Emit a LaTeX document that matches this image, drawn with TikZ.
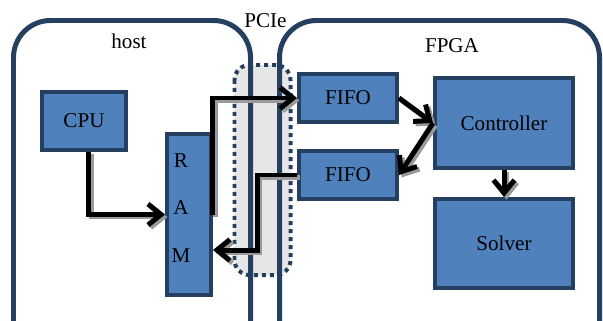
\documentclass[tikz,border=0pt]{standalone}
\usepackage{fontspec}
\setmainfont{Liberation Serif}
\usetikzlibrary{arrows.meta}
\definecolor{BlockBlue}{HTML}{4F81BD}
\definecolor{BlockNavy}{HTML}{243F60}
\definecolor{LaneGray}{HTML}{E6E6E6}
\definecolor{ShadowGray}{HTML}{9A9A9A}
\tikzset{
  devbox/.style={draw=BlockNavy, line width=0.1cm, rounded corners=0.74cm},
  devlab/.style={font=\fontsize{12}{14}\selectfont, anchor=base},
  block/.style={draw=BlockNavy, line width=0.08cm, fill=BlockBlue,
                align=center, inner sep=0pt, font=\fontsize{12}{14}\selectfont},
  lane/.style={draw=BlockNavy, line width=0.08cm,
               dash pattern=on 0.08cm off 0.08cm, rounded corners=0.3cm},
  busarrow/.style={draw=black, line width=0.1cm,
                   -{Straight Barb[length=0.26cm, width=0.42cm]}},
  busshadow/.style={busarrow, draw=ShadowGray,
                    transform canvas={shift={(0.05cm,-0.05cm)}}},
}
\begin{document}
\begin{tikzpicture}[x=0.02cm, y=-0.02cm]
  \useasboundingbox (0,0) rectangle (603,321);
  \clip (0,0) rectangle (603,321);
  % PCIe lane sits behind the two device outlines
  \fill[LaneGray, rounded corners=0.3cm] (234.5,65) rectangle (290.5,275);
  \draw[devbox] (13.5,20.5) rectangle (250.5,360);
  \draw[devbox] (279.5,20.5) rectangle (599.5,360);
  \draw[lane] (234.5,65) rectangle (290.5,275);
  \node[devlab] (hostlab) at (129,49) {host};
  \node[devlab] (pcielab) at (265.5,28) {PCIe};
  \node[devlab] (fpgalab) at (452,52) {FPGA};

  \node[block, minimum width=1.68cm, minimum height=1.16cm] (cpu) at (84,121) {CPU};
  \node[block, minimum width=0.88cm, minimum height=3.22cm] (ram) at (189,214.5) {};
  % letters sit a little left of and above the block's centre
  \node[align=center, font=\fontsize{12}{27}\selectfont] (ramlab) at (181,208) {R\\A\\M};
  \node[block, minimum width=1.96cm, minimum height=0.96cm] (fifoin) at (348,98) {FIFO};
  \node[block, minimum width=1.96cm, minimum height=0.96cm] (fifoout) at (348,175) {FIFO};
  \node[block, minimum width=2.76cm, minimum height=1.8cm] (ctrl) at (504,123) {Controller};
  \node[block, minimum width=2.76cm, minimum height=1.78cm] (solver) at (504,243.5) {Solver};

  % first pass lays the grey shadow, second the black arrow
  \foreach \look in {busshadow, busarrow} {
    \draw[\look] ([xshift=0.1cm]cpu.south) |- (ram.west);
    \draw[\look] (ram.east) |- (fifoin.west);
    \draw[\look] (fifoout.west) -- ++(-40,0) |- (ram.east |- 0,250);
    \draw[\look] (fifoin.east) -- (ctrl.west);
    \draw[\look] (ctrl.west) -- (fifoout.east);
    \draw[\look] (ctrl.south) -- (solver.north);
  }
\end{tikzpicture}
\end{document}
